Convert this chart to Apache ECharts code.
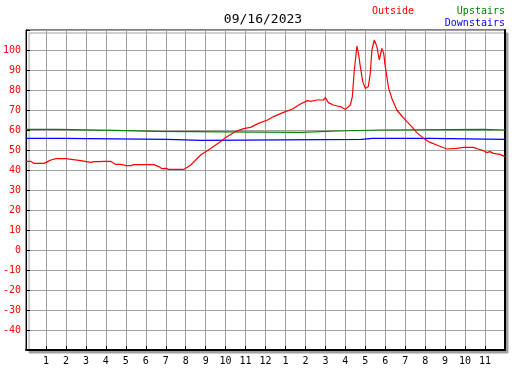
<!DOCTYPE html>
<html>
<head>
<meta charset="utf-8">
<script src="https://cdn.jsdelivr.net/npm/echarts@6/dist/echarts.min.js"></script>
<style>
  html, body { margin: 0; padding: 0; background: #fff; }
  #chart { width: 527px; height: 370px; }
</style>
</head>
<body>
<div id="chart"></div>
<script>
// hours since midnight, temperature in F
const outsideHours = [0, 0.25, 0.4, 0.9, 1.1, 1.25, 1.5, 2.0, 2.1, 2.65, 2.75, 3.25, 3.4, 3.65, 3.75, 3.9, 4.1, 4.15, 4.25, 4.5,
  4.75, 5.0, 5.25, 5.4, 6.4, 6.65, 6.8, 7.0, 7.15, 7.9, 8.25, 8.75, 9.25, 9.75, 10.0, 10.5, 10.9, 11.25, 11.65,
  12.1, 12.4, 12.9, 13.35, 13.75, 14.1, 14.25, 14.6, 14.9, 15.0, 15.15, 15.4, 15.6, 15.75, 16.0, 16.25, 16.35,
  16.45, 16.58, 16.67, 16.75, 16.87, 17.0, 17.15, 17.25, 17.33, 17.45, 17.53, 17.58, 17.7, 17.83, 17.92, 18.0,
  18.17, 18.33, 18.58, 18.83, 19.08, 19.33, 19.58, 19.92, 20.25, 20.58, 21.08, 21.58, 21.92, 22.42, 22.65, 22.92,
  23.08, 23.25, 23.42, 23.75, 24.0]
const outsideTemps = [44.3, 44.3, 43.3, 43.3, 44.3, 45.0, 45.7, 45.7, 44.8, 44.8, 43.8, 43.8, 44.2, 44.2, 43.7, 44.3, 44.3, 43.8, 44.3, 42.8,
  42.8, 42.2, 42.2, 42.7, 42.7, 41.7, 40.7, 40.8, 40.3, 40.3, 42.5, 47.5, 50.8, 54.2, 56.3, 59.2, 60.7, 61.3, 63.3,
  65.0, 66.7, 68.8, 70.5, 73.0, 74.7, 74.3, 75.0, 75.0, 76.2, 73.7, 72.5, 72.0, 71.7, 70.3, 72.5, 76.7,
  90, 102, 97.5, 91.7, 84.2, 80.8, 81.7, 88.3, 100, 105, 105.8, 101.7, 95, 100.8, 98.3, 91.7,
  80.8, 75.8, 70, 67, 64.2, 61.7, 58.7, 55.8, 53.8, 52.5, 50.5, 50.8, 51.3, 51.3, 50.5, 49.7,
  48.7, 49.2, 48.3, 47.8, 46.7]

const upstairsHours = [0, 1.6, 1.65, 4.4, 4.45, 6.5, 6.55, 13.75, 13.8, 15.65, 15.7, 17.75, 17.8, 22.9, 22.95, 24]
const upstairsTemps = [60.3, 60.3, 59.8, 59.8, 59.3, 59.3, 58.8, 58.8, 59.5, 59.5, 60.0, 60.0, 60.3, 60.3, 60.0, 60.0]

const downstairsHours = [0, 1.83, 1.88, 7.08, 7.13, 8.78, 8.83, 16.8, 16.85, 17.35, 17.4, 17.45, 20.25, 20.3, 24]
const downstairsTemps = [55.8, 55.8, 55.3, 55.3, 54.8, 54.8, 55.3, 55.3, 55.8, 55.8, 55.3, 55.8, 55.8, 55.3, 55.3]

const hourLabels = ['', '1', '2', '3', '4', '5', '6', '7', '8', '9', '10', '11', '12',
  '1', '2', '3', '4', '5', '6', '7', '8', '9', '10', '11', '']

const pairs = (xs, ys) => xs.map((x, i) => [x, ys[i]])

const chart = echarts.init(document.getElementById('chart'))
const mono = 'DejaVu Sans Mono'

chart.setOption({
  animation: false,
  backgroundColor: '#fff',
  title: [
    { text: '09/16/2023', left: 263, top: 13, textAlign: 'center',
      textStyle: { fontFamily: mono, fontSize: 13, fontWeight: 'normal', color: '#000' } },
    { text: 'Outside', left: 372, top: 6,
      textStyle: { fontFamily: mono, fontSize: 10, fontWeight: 'normal', color: '#ff0000' } },
    { text: 'Upstairs', right: 22, top: 6,
      textStyle: { fontFamily: mono, fontSize: 10, fontWeight: 'normal', color: '#008000' } },
    { text: 'Downstairs', right: 22, top: 18,
      textStyle: { fontFamily: mono, fontSize: 10, fontWeight: 'normal', color: '#0000ff' } }
  ].map(t => Object.assign({ padding: 0 }, t)),
  grid: {
    left: 25, top: 30, width: 480, height: 320,
    show: true,
    backgroundColor: '#fff',
    borderColor: '#000',
    borderWidth: 1,
    shadowColor: '#a0a0a0',
    shadowBlur: 0,
    shadowOffsetX: 3,
    shadowOffsetY: 3
  },
  xAxis: {
    type: 'value', min: 0, max: 24, interval: 1,
    axisLine: { onZero: false, lineStyle: { color: '#000', width: 2 } },
    axisTick: { inside: true, length: 4, lineStyle: { color: '#000' } },
    axisLabel: {
      fontFamily: mono, fontSize: 10, color: '#000', margin: 6,
      formatter: v => hourLabels[v]
    },
    splitLine: { show: true, lineStyle: { color: '#a0a0a0', width: 1 } }
  },
  yAxis: [{
    type: 'value', min: -50, max: 110, interval: 10,
    axisLine: { show: true, lineStyle: { color: '#000', width: 1 } },
    axisTick: { show: true, inside: true, length: 4, lineStyle: { color: '#000' } },
    axisLabel: {
      fontFamily: mono, fontSize: 10, color: '#ff0000', margin: 5,
      formatter: v => (v === -50 || v === 110) ? '' : String(v)
    },
    splitLine: { show: true, lineStyle: { color: '#a0a0a0', width: 1 } }
  }, {
    type: 'value', min: -50, max: 110, interval: 10, position: 'right',
    axisLine: { show: true, lineStyle: { color: '#000', width: 2 } },
    axisTick: { show: false }, axisLabel: { show: false }, splitLine: { show: false }
  }],
  series: [
    { name: 'Upstairs', type: 'line', showSymbol: false, data: pairs(upstairsHours, upstairsTemps),
      lineStyle: { color: '#008000', width: 1.2 } },
    { name: 'Downstairs', type: 'line', showSymbol: false, data: pairs(downstairsHours, downstairsTemps),
      lineStyle: { color: '#0000ff', width: 1.2 } },
    { name: 'Outside', type: 'line', showSymbol: false, data: pairs(outsideHours, outsideTemps),
      lineStyle: { color: '#ff0000', width: 1.2 } }
  ]
})
</script>
</body>
</html>
